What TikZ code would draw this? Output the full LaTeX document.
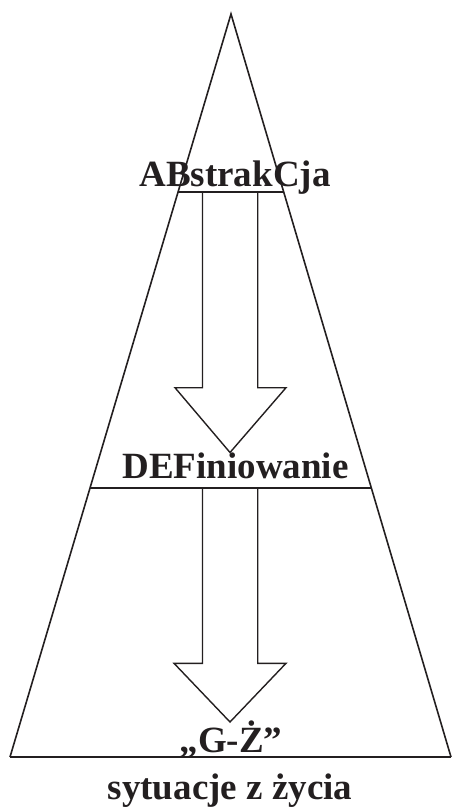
\documentclass[tikz,border=0pt]{standalone}
\usepackage{fontspec}
\setmainfont{Liberation Serif}
\usetikzlibrary{calc}
\definecolor{ink}{RGB}{35,31,32}
\begin{document}
\begin{tikzpicture}[x=1pt,y=-1pt,
  side/.style={draw=ink,line width=1.6pt,line join=miter},
  level/.style={draw=ink,line width=2pt},
  blockarrow/.style={draw=ink,line width=1.4pt,line join=miter},
  lbl/.style={text=ink,font=\fontsize{37}{37}\selectfont\bfseries,anchor=base,inner sep=0pt}]
\useasboundingbox (0,0) rectangle (452,808);
% triangle
\coordinate (apex) at (231,14);
\coordinate (bl) at (10,757);
\coordinate (br) at (451,757);
\coordinate (l1) at ($(apex)!0.2392!(bl)$);
\coordinate (r1) at ($(apex)!0.2392!(br)$);
\coordinate (l2) at ($(apex)!0.6373!(bl)$);
\coordinate (r2) at ($(apex)!0.6373!(br)$);
% labels
\node[lbl] (abs) at (235,186) {ABstrakCja};
\node[lbl] (def) at (235.5,478.5) {DEFiniowanie};
\node[lbl] (gz) at (231,752) {„G-Ż”};
\node[lbl] (syt) at (230,799) {sytuacje z życia};
% sides and levels
\draw[side] (bl) -- (apex) -- (br);
\draw[level] (l1) -- (r1);
\draw[level] (l2) -- (r2);
\draw[level] (bl) -- (br);
% block arrows
\draw[blockarrow] (202.5,191.7) -- (202.5,387.7) -- (175,387.7) -- (230,452.5)
  -- (286,387.7) -- (257.7,387.7) -- (257.7,191.7);
\draw[blockarrow] (202.5,487.5) -- (202.5,663.3) -- (174,663.3) -- (230,722)
  -- (286,663.3) -- (257.7,663.3) -- (257.7,487.5);
\end{tikzpicture}
\end{document}
